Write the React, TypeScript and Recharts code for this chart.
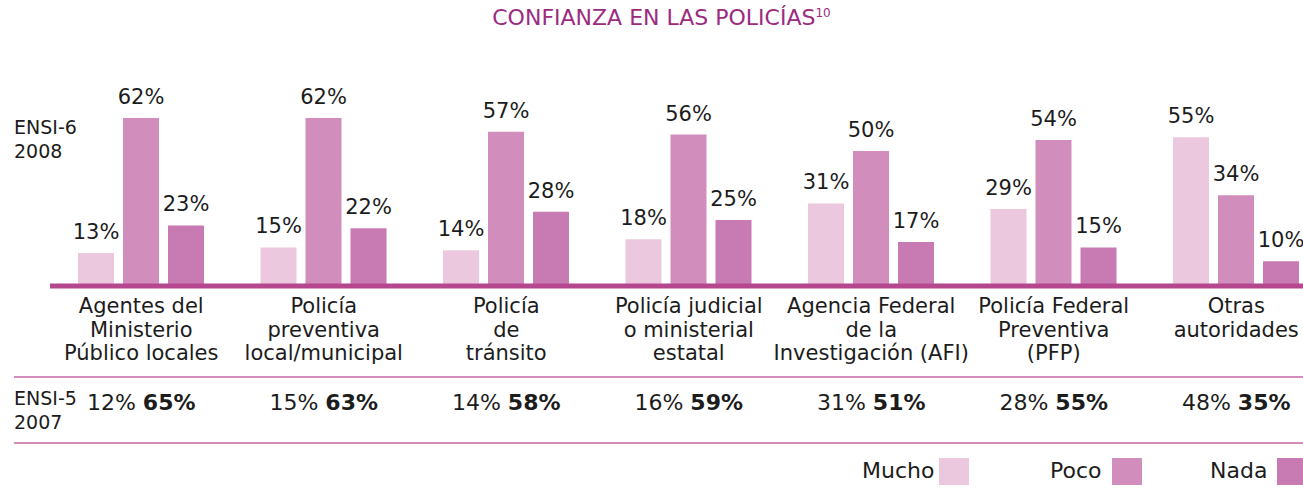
import React from 'react';
import { BarChart, Bar, XAxis, YAxis, LabelList } from 'recharts';

document.body.style.margin = '0';

const categories = [
  ['Agentes del', 'Ministerio', 'Público locales'],
  ['Policía', 'preventiva', 'local/municipal'],
  ['Policía', 'de', 'tránsito'],
  ['Policía judicial', 'o ministerial', 'estatal'],
  ['Agencia Federal', 'de la', 'Investigación (AFI)'],
  ['Policía Federal', 'Preventiva', '(PFP)'],
  ['Otras', 'autoridades'],
];

// ENSI-6 2008
const mucho2008 = [13, 15, 14, 18, 31, 29, 55];
const poco2008 = [62, 62, 57, 56, 50, 54, 34];
const nada2008 = [23, 22, 28, 25, 17, 15, 10];

// ENSI-5 2007
const mucho2007 = [12, 15, 14, 16, 31, 28, 48];
const poco2007 = [65, 63, 58, 59, 51, 55, 35];

const series = [
  { key: 'mucho', name: 'Mucho', color: '#ecc8de' },
  { key: 'poco', name: 'Poco', color: '#d18dbc' },
  { key: 'nada', name: 'Nada', color: '#c87bb2' },
];

const data = categories.map((lines, i) => ({
  name: lines.join(' '),
  mucho: mucho2008[i],
  poco: poco2008[i],
  nada: nada2008[i],
}));

const FONT = '"DejaVu Sans", sans-serif';
const INK = '#1c1c1c';

function CategoryTick({ x, y, payload }: any) {
  const i = payload.index;
  return (
    <g>
      <text x={x} y={y} textAnchor="middle" fontFamily={FONT} fontSize={21} fill={INK}>
        {categories[i].map((line, k) => (
          <tspan key={k} x={x} dy={k === 0 ? 25 : 23.5}>
            {line}
          </tspan>
        ))}
      </text>
      <text x={x} y={y + 122} textAnchor="middle" fontFamily={FONT} fontSize={22} fill={INK}>
        <tspan>{mucho2007[i]}% </tspan>
        <tspan fontWeight="bold">{poco2007[i]}%</tspan>
      </text>
    </g>
  );
}

const sideLabel: React.CSSProperties = {
  position: 'absolute',
  left: 14,
  fontFamily: FONT,
  fontSize: 19,
  lineHeight: '24px',
  color: INK,
};

export default function App() {
  return (
    <div style={{ position: 'relative', width: 1303, height: 491, overflow: 'hidden', background: '#fff' }}>
      <div
        style={{
          position: 'absolute',
          top: 5,
          left: 0,
          width: 1323,
          textAlign: 'center',
          fontFamily: FONT,
          fontSize: 22,
          color: '#9c2b80',
        }}
      >
        CONFIANZA EN LAS POLICÍAS<sup style={{ fontSize: 12 }}>10</sup>
      </div>

      <div style={{ ...sideLabel, top: 115 }}>
        ENSI-6
        <br />
        2008
      </div>
      <div style={{ ...sideLabel, top: 386 }}>
        ENSI-5
        <br />
        2007
      </div>

      <div style={{ position: 'absolute', left: 14, right: 0, top: 376, height: 2, background: '#d48cbf' }} />
      <div style={{ position: 'absolute', left: 14, right: 0, top: 442, height: 2, background: '#d48cbf' }} />

      <div style={{ position: 'absolute', top: 0, left: 0 }}>
        <BarChart
          width={1330}
          height={491}
          data={data}
          margin={{ top: 96, right: 2.5, left: 50, bottom: 175 }}
          barSize={36}
          barGap={9}
        >
          <YAxis hide domain={[1, 70]} />
          <XAxis
            dataKey="name"
            interval={0}
            tickLine={false}
            tickSize={0}
            height={30}
            axisLine={{ stroke: '#b5478f', strokeWidth: 5 }}
            tick={<CategoryTick />}
          />
          {series.map((s) => (
            <Bar key={s.key} dataKey={s.key} name={s.name} fill={s.color} isAnimationActive={false}>
              <LabelList
                dataKey={s.key}
                position="top"
                offset={14}
                formatter={(v: any) => `${v}%`}
                fontFamily={FONT}
                fontSize={21}
                fill={INK}
              />
            </Bar>
          ))}
        </BarChart>
      </div>

      {series.map((s, i) => (
        <div
          key={s.key}
          style={{
            position: 'absolute',
            top: 457,
            left: [862, 1050, 1210][i],
            display: 'flex',
            alignItems: 'flex-end',
            fontFamily: FONT,
            fontSize: 22,
            color: INK,
          }}
        >
          <span style={{ lineHeight: '28px', marginRight: [5, 10, 10][i] }}>{s.name}</span>
          <span style={{ width: 30, height: 27, background: s.color, display: 'inline-block' }} />
        </div>
      ))}
    </div>
  );
}
